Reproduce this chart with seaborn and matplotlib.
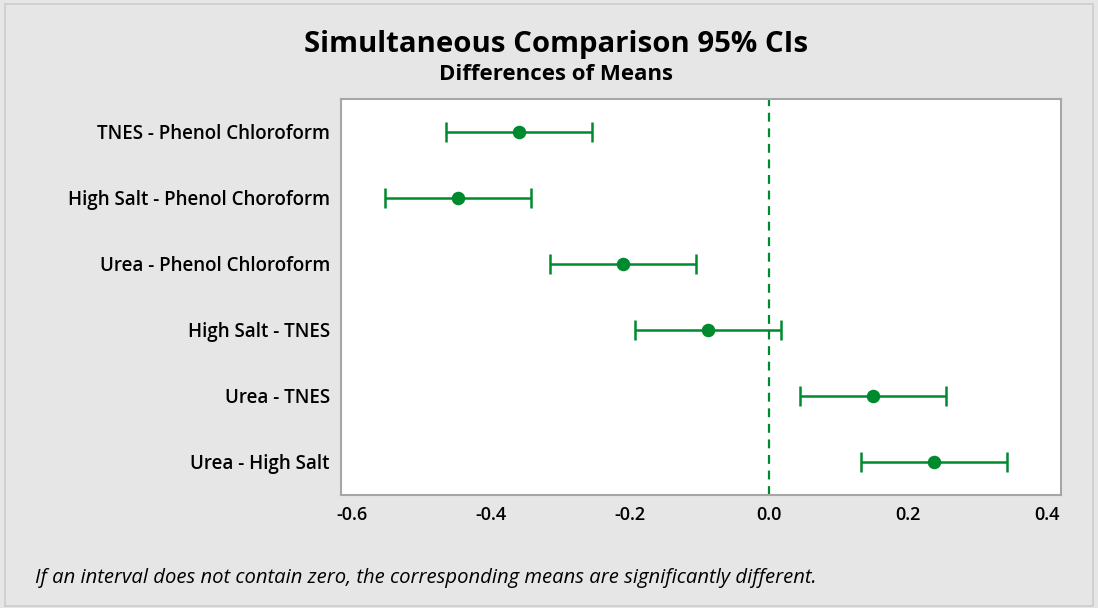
import matplotlib
matplotlib.use("Agg")
import matplotlib.pyplot as plt
import matplotlib.patches as mpatches
import seaborn as sns
import pandas as pd

comparisons = [
    "TNES - Phenol Chloroform",
    "High Salt - Phenol Choroform",
    "Urea - Phenol Chloroform",
    "High Salt - TNES",
    "Urea - TNES",
    "Urea - High Salt",
]
diff_means = [-0.360, -0.448, -0.211, -0.088, 0.149, 0.237]
ci_lower = [-0.465, -0.553, -0.316, -0.193, 0.044, 0.132]
ci_upper = [-0.255, -0.343, -0.106, 0.017, 0.254, 0.342]
x_ticks = [-0.6, -0.4, -0.2, 0.0, 0.2, 0.4]

df = pd.DataFrame({"comparison": comparisons, "diff": diff_means,
                   "lower": ci_lower, "upper": ci_upper})

sns.set_theme(style="white")
FONT = ["Open Sans", "DejaVu Sans"]
plt.rcParams["font.family"] = FONT

BG = "#e6e6e6"
GREEN = "#008a2e"
FRAME = "#a6a6a6"

fig = plt.figure(figsize=(10.98, 6.08), dpi=100, facecolor=BG)
ax = fig.add_axes([0.3106, 0.1859, 0.966 - 0.3106, 0.8372 - 0.1859])
ax.set_facecolor("white")

ypos = list(range(len(comparisons)))
ax.errorbar(df["diff"], ypos,
            xerr=[df["diff"] - df["lower"], df["upper"] - df["diff"]],
            fmt="none", ecolor=GREEN, elinewidth=1.8, capsize=7, capthick=1.8,
            zorder=2)
sns.scatterplot(x=df["diff"], y=ypos, ax=ax, color=GREEN, s=95,
                edgecolor=GREEN, linewidth=0, zorder=3, legend=False)
ax.axvline(0, color=GREEN, linestyle=(0, (4, 3)), linewidth=1.6, zorder=1)

ax.set_xlim(-0.616, 0.419)
ax.set_ylim(len(comparisons) - 0.5, -0.5)
ax.set_yticks(ypos)
ax.set_yticklabels(comparisons)
ax.set_xticks(x_ticks)
ax.set_xticklabels([f"{t:.1f}" for t in x_ticks])
ax.set_xlabel("")
ax.set_ylabel("")

for s in ax.spines.values():
    s.set_color(FRAME)
    s.set_linewidth(1.5)
ax.tick_params(axis="both", which="major", direction="out", length=5,
               width=1.2, color=FRAME, labelcolor="black", pad=3)
ax.tick_params(axis="y", labelsize=13.5)
ax.tick_params(axis="x", labelsize=13)
for lab in ax.get_yticklabels() + ax.get_xticklabels():
    lab.set_fontweight("semibold")

fig.text(0.5068, 0.927, "Simultaneous Comparison 95% CIs", ha="center",
         va="center", fontsize=21.2, fontweight="bold", color="black")
fig.text(0.5068, 0.878, "Differences of Means", ha="center", va="center",
         fontsize=16, fontweight="bold", color="black")
fig.text(0.032, 0.050, "If an interval does not contain zero, the corresponding "
         "means are significantly different.", ha="left", va="center",
         fontsize=14.6, fontstyle="italic", color="black")

fig.patches.append(mpatches.Rectangle((0.005, 0.003), 0.99, 0.99,
                                      transform=fig.transFigure, fill=False,
                                      edgecolor="#cccccc", linewidth=1.2))

fig.savefig("out.png", dpi=100, facecolor=BG)
